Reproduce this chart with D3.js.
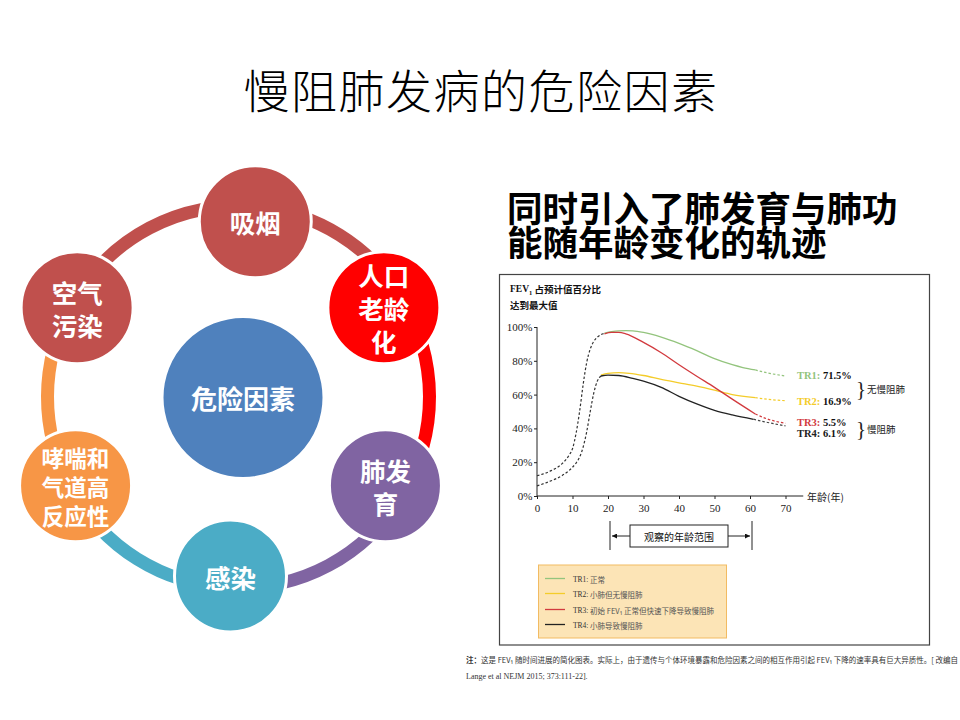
<!DOCTYPE html>
<html>
<head>
<meta charset="utf-8">
<script src="https://cdn.jsdelivr.net/npm/d3@7"></script>
<style>
    html, body { margin: 0; padding: 0; background: #fff; }
    svg { display: block; }
</style>
</head>
<body>
<svg id="slide"></svg>
<script>
// ===================   Data   =========================

const titleText = "慢阻肺发病的危险因素";
const subtitleLines = ["同时引入了肺发育与肺功", "能随年龄变化的轨迹"];

const centerLabel = "危险因素";
const factorLabels = [["吸烟"], ["人口", "老龄", "化"], ["肺发", "育"], ["感染"], ["哮喘和", "气道高", "反应性"], ["空气", "污染"]];
const factorColors = ["#C0504D", "#FF0000", "#8064A2", "#4BACC6", "#F79646", "#C0504D"];

const ageTicks = [0, 10, 20, 30, 40, 50, 60, 70];
const pctTicks = [0, 20, 40, 60, 80, 100];

// childhood growth (dashed, black)
const growthHighAges = [0, 4, 7, 9, 10, 11, 12, 13, 14, 15, 16, 17, 18, 19];
const growthHighPct = [12, 15, 19, 24, 28, 37, 50, 66, 79, 87, 91.5, 94, 95.5, 96.2];
const growthLowAges = [0, 4, 7, 9, 10, 11, 12, 13, 14, 15, 16, 17, 18];
const growthLowPct = [6, 9, 12, 15, 17, 19.5, 23, 29, 38, 50, 61, 68, 71];

// observed trajectories (solid) and projections (dashed)
const tr1Ages = [19, 21, 23, 25, 27, 30, 35, 40, 45, 50, 55, 58, 61.5];
const tr1Pct = [96.3, 97.2, 97.7, 97.8, 97.7, 96.8, 94, 90.3, 86, 81.3, 77.7, 76, 74.6];
const tr1TailAges = [61.5, 65, 70];
const tr1TailPct = [74.6, 72.8, 71];

const tr2Ages = [18, 20, 23, 26, 30, 35, 40, 45, 50, 55, 61.5];
const tr2Pct = [71.5, 72.5, 73, 72.6, 71.3, 69, 67, 65, 62.6, 60, 58.2];
const tr2TailAges = [61.5, 65, 70];
const tr2TailPct = [58.2, 57.2, 56.4];

const tr3Ages = [19, 21, 23, 25, 30, 35, 40, 45, 50, 55, 61.5];
const tr3Pct = [96, 96.8, 96.8, 96, 90.9, 84.8, 77.7, 70.9, 64.3, 57.3, 48.5];
const tr3TailAges = [61.5, 65, 70];
const tr3TailPct = [48.5, 45.5, 43];

const tr4Ages = [18, 20, 23, 27, 30, 35, 40, 45, 50, 55, 61];
const tr4Pct = [71, 71.5, 71.3, 69.6, 68, 64.3, 59, 54.5, 50.7, 48, 45.4];
const tr4TailAges = [61, 65, 70];
const tr4TailPct = [45.4, 43.5, 41.5];

const trNames = ["TR1", "TR2", "TR3", "TR4"];
const trShares = ["71.5%", "16.9%", "5.5%", "6.1%"];
const trColors = ["#93C47D", "#F4CC2A", "#D23A3E", "#222222"];
const trLegendText = ["正常", "小肺但无慢阻肺", "初始 FEV₁ 正常但快速下降导致慢阻肺", "小肺导致慢阻肺"];
const groupLabels = ["无慢阻肺", "慢阻肺"];

const observedRange = [20, 60];

const noteLines = [
    "这是 FEV₁ 随时间进展的简化图表。实际上，由于遗传与个体环境暴露和危险因素之间的相互作用引起 FEV₁ 下降的速率具有巨大异质性。[ 改编自",
    "Lange et al NEJM 2015; 373:111-22]."
];


const width = 960;
const height = 720;
const cjk = "'Noto Sans CJK SC', 'Noto Sans', sans-serif";
const serif = "'Liberation Serif', 'DejaVu Serif', serif";

const svg = d3.select("#slide")
    .attr("width", width)
    .attr("height", height)
    .style("background", "#fff");


// ===================   Titles   =========================

svg.append("text")
    .attr("x", 481)
    .attr("y", 88)
    .attr("text-anchor", "middle")
    .attr("dominant-baseline", "central")
    .style("font-family", cjk)
    .style("font-size", "46px")
    .style("font-weight", "300")
    .style("letter-spacing", "1.5px")
    .style("fill", "#000")
    .text(titleText);

svg.append("g")
    .selectAll("text")
    .data(subtitleLines)
    .enter().append("text")
    .attr("x", 507)
    .attr("y", (d, i) => 206 + i * 34)
    .attr("dominant-baseline", "central")
    .style("font-family", cjk)
    .style("font-size", "35.5px")
    .style("font-weight", "bold")
    .style("fill", "#000")
    .text(d => d);


// ===================   Risk factor cycle   =========================

const ringCenter = { x: 238.5, y: 397 };
const ringRadius = 191;
const nodeCenter = { x: 230.5, y: 398 };
const nodeOrbit = 178;
const nodeRadius = 56;
const nodeAngles = [82, 30.5, -29.5, -90, 209.5, 149.5];

const nodes = factorLabels.map((lines, i) => {
    const a = nodeAngles[i] * Math.PI / 180;
    const cx = nodeCenter.x + nodeOrbit * Math.cos(a);
    const cy = nodeCenter.y - nodeOrbit * Math.sin(a);
    return {
        lines: lines,
        color: factorColors[i],
        cx: cx,
        cy: cy,
        ringAngle: Math.atan2(cx - ringCenter.x, -(cy - ringCenter.y))
    };
});

const arc = d3.arc()
    .innerRadius(ringRadius - 6.5)
    .outerRadius(ringRadius + 6.5);

const ring = svg.append("g")
    .attr("transform", `translate(${ringCenter.x},${ringCenter.y})`);

ring.selectAll("path")
    .data(nodes)
    .enter().append("path")
    .attr("d", (d, i) => {
        const next = nodes[(i + 1) % nodes.length];
        let end = next.ringAngle;
        while (end <= d.ringAngle) end += 2 * Math.PI;
        return arc({ startAngle: d.ringAngle, endAngle: end });
    })
    .attr("fill", d => d.color);

svg.append("circle")
    .attr("cx", 243)
    .attr("cy", 397.5)
    .attr("r", 80.5)
    .attr("fill", "#4F81BD")
    .attr("stroke", "#fff")
    .attr("stroke-width", 2);

svg.append("text")
    .attr("x", 243)
    .attr("y", 397.5)
    .attr("text-anchor", "middle")
    .attr("dominant-baseline", "central")
    .style("font-family", cjk)
    .style("font-size", "26px")
    .style("font-weight", "bold")
    .style("fill", "#fff")
    .text(centerLabel);

const node = svg.append("g")
    .selectAll("g")
    .data(nodes)
    .enter().append("g")
    .attr("transform", d => `translate(${d.cx},${d.cy})`);

node.append("circle")
    .attr("r", nodeRadius)
    .attr("fill", d => d.color)
    .attr("stroke", "#fff")
    .attr("stroke-width", 3);

node.each(function (d) {
    const wide = d3.max(d.lines, l => l.length) > 2;
    const fontSize = wide ? 22.5 : 25.5;
    const lineHeight = wide ? 29 : 33;
    d3.select(this).selectAll("text")
        .data(d.lines)
        .enter().append("text")
        .attr("y", (l, i) => (i - (d.lines.length - 1) / 2) * lineHeight)
        .attr("text-anchor", "middle")
        .attr("dominant-baseline", "central")
        .style("font-family", cjk)
        .style("font-size", fontSize + "px")
        .style("font-weight", "bold")
        .style("fill", "#fff")
        .text(l => l);
});


// ===================   FEV1 trajectory figure   =========================

const fig = svg.append("g");

fig.append("rect")
    .attr("x", 499.5)
    .attr("y", 274.5)
    .attr("width", 430)
    .attr("height", 370.5)
    .attr("fill", "#fff")
    .attr("stroke", "#444")
    .attr("stroke-width", 1.2);

const header = fig.append("text")
    .attr("x", 510)
    .attr("y", 288.5)
    .attr("dominant-baseline", "central")
    .style("font-family", serif)
    .style("font-size", "9.5px")
    .style("font-weight", "bold")
    .style("fill", "#111");
header.append("tspan").text("FEV");
header.append("tspan").attr("baseline-shift", "sub").style("font-size", "6.5px").text("1");
header.append("tspan").style("font-family", cjk).text(" 占预计值百分比");

fig.append("text")
    .attr("x", 510)
    .attr("y", 305)
    .attr("dominant-baseline", "central")
    .style("font-family", cjk)
    .style("font-size", "9.5px")
    .style("font-weight", "bold")
    .style("fill", "#111")
    .text("达到最大值");

const x = d3.scaleLinear()
    .domain([0, 70])
    .range([537, 785.5]);

const y = d3.scaleLinear()
    .domain([0, 100])
    .range([496, 327]);

const xAxis = fig.append("g")
    .attr("transform", `translate(0,${y(0)})`)
    .call(d3.axisBottom(x)
        .tickValues(ageTicks)
        .tickSize(3)
        .tickPadding(5)
        .tickFormat(d3.format("d")));

xAxis.select(".domain").remove();
xAxis.append("line")
    .attr("x1", x(0))
    .attr("x2", x(75))
    .attr("stroke", "#222");

const yAxis = fig.append("g")
    .attr("transform", `translate(${x(0)},0)`)
    .call(d3.axisLeft(y)
        .tickValues(pctTicks)
        .tickSize(3)
        .tickPadding(1.5)
        .tickFormat(d => d + "%"));

yAxis.select(".domain").remove();
yAxis.append("line")
    .attr("y1", y(0))
    .attr("y2", y(100))
    .attr("stroke", "#222");

fig.selectAll(".tick line").attr("stroke", "#222");
fig.selectAll(".tick text")
    .style("font-family", serif)
    .style("font-size", "11px")
    .style("fill", "#222");

fig.append("text")
    .attr("x", 807)
    .attr("y", y(0))
    .attr("dominant-baseline", "central")
    .style("font-family", cjk)
    .style("font-size", "10px")
    .style("fill", "#222")
    .text("年龄(年)");

const line = d3.line()
    .x(d => x(d[0]))
    .y(d => y(d[1]))
    .curve(d3.curveMonotoneX);

const dashedPaths = [
    { pts: d3.zip(growthHighAges, growthHighPct), color: "#333" },
    { pts: d3.zip(growthLowAges, growthLowPct), color: "#333" },
    { pts: d3.zip(tr1TailAges, tr1TailPct), color: trColors[0] },
    { pts: d3.zip(tr2TailAges, tr2TailPct), color: trColors[1] },
    { pts: d3.zip(tr3TailAges, tr3TailPct), color: trColors[2] },
    { pts: d3.zip(tr4TailAges, tr4TailPct), color: "#444" }
];

const solidPaths = [
    { pts: d3.zip(tr1Ages, tr1Pct), color: trColors[0] },
    { pts: d3.zip(tr2Ages, tr2Pct), color: trColors[1] },
    { pts: d3.zip(tr4Ages, tr4Pct), color: trColors[3] },
    { pts: d3.zip(tr3Ages, tr3Pct), color: trColors[2] }
];

fig.append("g")
    .selectAll("path")
    .data(dashedPaths)
    .enter().append("path")
    .attr("d", d => line(d.pts))
    .attr("fill", "none")
    .attr("stroke", d => d.color)
    .attr("stroke-width", 1.2)
    .attr("stroke-dasharray", "2.5,2");

fig.append("g")
    .selectAll("path")
    .data(solidPaths)
    .enter().append("path")
    .attr("d", d => line(d.pts))
    .attr("fill", "none")
    .attr("stroke", d => d.color)
    .attr("stroke-width", 1.3);

// trajectory shares
const labelY = [375, 400.5, 422, 432.5];
const shareLabel = fig.append("g")
    .selectAll("text")
    .data(trNames)
    .enter().append("text")
    .attr("x", 797)
    .attr("y", (d, i) => labelY[i])
    .attr("dominant-baseline", "central")
    .style("font-family", serif)
    .style("font-size", "10.5px")
    .style("font-weight", "bold");

shareLabel.append("tspan")
    .style("fill", (d, i) => trColors[i])
    .text(d => d + ":");
shareLabel.append("tspan")
    .style("fill", "#111")
    .text((d, i) => " " + trShares[i]);

const groupY = [389, 429];
fig.append("g")
    .selectAll("text")
    .data(groupY)
    .enter().append("text")
    .attr("x", 856)
    .attr("y", d => d)
    .attr("dominant-baseline", "central")
    .style("font-family", serif)
    .style("font-size", "21px")
    .style("fill", "#222")
    .text("}");

fig.append("g")
    .selectAll("text")
    .data(groupLabels)
    .enter().append("text")
    .attr("x", 867)
    .attr("y", (d, i) => groupY[i])
    .attr("dominant-baseline", "central")
    .style("font-family", cjk)
    .style("font-size", "9.5px")
    .style("fill", "#222")
    .text(d => d);

// observed age range
const defs = svg.append("defs");
defs.append("marker")
    .attr("id", "arrow")
    .attr("viewBox", "0 0 10 10")
    .attr("refX", 10)
    .attr("refY", 5)
    .attr("markerWidth", 5)
    .attr("markerHeight", 5)
    .attr("orient", "auto")
    .append("path")
    .attr("d", "M0,0L10,5L0,10Z")
    .attr("fill", "#111");

const rangeY = 536;
const boxHalf = 49;
const rangeMid = x(d3.mean(observedRange));

fig.append("g")
    .selectAll("line")
    .data(observedRange)
    .enter().append("line")
    .attr("x1", d => x(d) + 2)
    .attr("x2", d => x(d) + 2)
    .attr("y1", 521)
    .attr("y2", 550)
    .attr("stroke", "#222");

fig.append("line")
    .attr("x1", rangeMid - boxHalf)
    .attr("x2", x(observedRange[0]) + 4)
    .attr("y1", rangeY)
    .attr("y2", rangeY)
    .attr("stroke", "#222")
    .attr("marker-end", "url(#arrow)");

fig.append("line")
    .attr("x1", rangeMid + boxHalf)
    .attr("x2", x(observedRange[1]))
    .attr("y1", rangeY)
    .attr("y2", rangeY)
    .attr("stroke", "#222")
    .attr("marker-end", "url(#arrow)");

fig.append("rect")
    .attr("x", rangeMid - boxHalf)
    .attr("y", 525)
    .attr("width", boxHalf * 2)
    .attr("height", 22)
    .attr("fill", "#fff")
    .attr("stroke", "#222");

fig.append("text")
    .attr("x", rangeMid)
    .attr("y", rangeY)
    .attr("text-anchor", "middle")
    .attr("dominant-baseline", "central")
    .style("font-family", cjk)
    .style("font-size", "10px")
    .style("fill", "#111")
    .text("观察的年龄范围");

// legend
fig.append("rect")
    .attr("x", 538.5)
    .attr("y", 565)
    .attr("width", 188)
    .attr("height", 73)
    .attr("fill", "#FCE4B6")
    .attr("stroke", "#F2BB62")
    .attr("stroke-width", 1);

const legendRowY = [578.5, 593.5, 609.5, 624.5];
const legendRow = fig.append("g")
    .selectAll("g")
    .data(trNames)
    .enter().append("g")
    .attr("transform", (d, i) => `translate(545,${legendRowY[i]})`);

legendRow.append("line")
    .attr("x1", 0)
    .attr("x2", 20)
    .attr("stroke", (d, i) => trColors[i])
    .attr("stroke-width", 1.3);

const legendText = legendRow.append("text")
    .attr("x", 28)
    .attr("dominant-baseline", "central")
    .style("font-size", "7.5px")
    .style("fill", "#555");

legendText.append("tspan")
    .style("font-family", serif)
    .style("fill", "#333")
    .text(d => d + ":");
legendText.append("tspan")
    .style("font-family", cjk)
    .text((d, i) => " " + trLegendText[i]);


// ===================   Footnote   =========================

const note = svg.append("g")
    .style("font-size", "7.5px")
    .style("fill", "#333");

const note1 = note.append("text")
    .attr("x", 466)
    .attr("y", 658.5)
    .attr("dominant-baseline", "central")
    .attr("textLength", 492)
    .attr("lengthAdjust", "spacing")
    .style("font-family", cjk);
note1.append("tspan").style("font-weight", "bold").text("注：");
note1.append("tspan").text(noteLines[0]);

note.append("text")
    .attr("x", 466)
    .attr("y", 676.5)
    .attr("dominant-baseline", "central")
    .style("font-family", serif)
    .style("font-size", "8px")
    .text(noteLines[1]);
</script>
</body>
</html>
